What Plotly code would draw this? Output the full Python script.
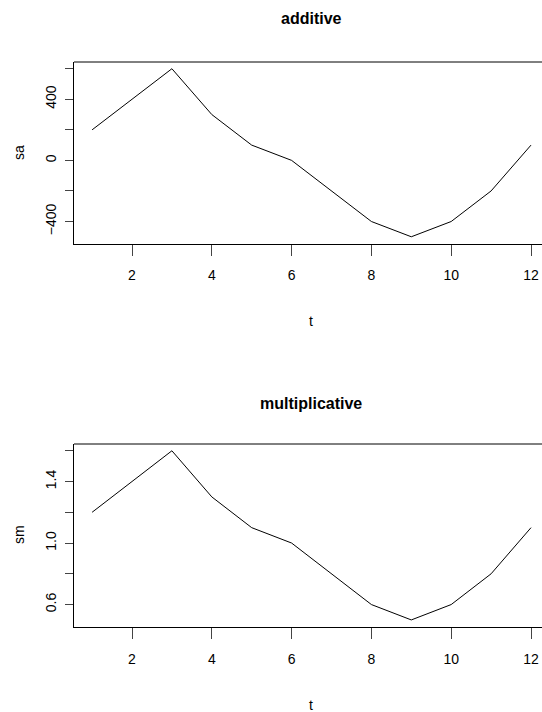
import plotly.graph_objects as go

t = [1, 2, 3, 4, 5, 6, 7, 8, 9, 10, 11, 12]
sa = [200, 400, 600, 300, 100, 0, -200, -400, -500, -400, -200, 100]
sm = [1.2, 1.4, 1.6, 1.3, 1.1, 1.0, 0.8, 0.6, 0.5, 0.6, 0.8, 1.1]

x_ticks = [2, 4, 6, 8, 10, 12]
sa_ticks = [-400, -200, 0, 200, 400, 600]
sa_text = ["\u2212400", "", "0", "", "400", ""]
sm_ticks = [0.6, 0.8, 1.0, 1.2, 1.4, 1.6]
sm_text = ["0.6", "", "1.0", "", "1.4", ""]

W, H = 542, 712
FONT = "Liberation Sans, Arial, sans-serif"

def py(p):
    return 1 - p / H

left = 74 / W
top_dom = [py(243.5), py(62)]
bot_dom = [py(626.7), py(444)]
xr = [2 - 58 / 39.9, 12 + 11 / 39.9]

fig = go.Figure()
fig.add_trace(go.Scatter(x=t, y=sa, mode="lines", line=dict(color="black", width=1),
                         xaxis="x", yaxis="y", showlegend=False, hoverinfo="skip"))
fig.add_trace(go.Scatter(x=t, y=sm, mode="lines", line=dict(color="black", width=1),
                         xaxis="x2", yaxis="y2", showlegend=False, hoverinfo="skip"))

xcommon = dict(range=xr, domain=[left, 1], tickvals=x_ticks, ticks="outside", ticklen=11,
               tickwidth=1, tickcolor="#444", showline=True, linecolor="black", linewidth=1,
               showgrid=False, zeroline=False, tickfont=dict(family=FONT, size=14, color="black"),
               ticklabelstandoff=8)
ycommon = dict(ticks="outside", ticklen=8, tickwidth=1, tickcolor="#444", showline=True,
               linecolor="black", linewidth=1, showgrid=False, zeroline=False, tickangle=-90,
               tickfont=dict(family=FONT, size=14, color="black"), ticklabelstandoff=3)

fig.update_layout(
    width=W, height=H, margin=dict(l=0, r=0, t=0, b=0),
    paper_bgcolor="white", plot_bgcolor="white",
    xaxis=dict(anchor="y", **xcommon),
    yaxis=dict(domain=top_dom, range=[-544, 644], tickvals=sa_ticks, ticktext=sa_text,
               anchor="x", **ycommon),
    xaxis2=dict(anchor="y2", **xcommon),
    yaxis2=dict(domain=bot_dom, range=[0.456, 1.644], tickvals=sm_ticks, ticktext=sm_text,
                anchor="x2", **ycommon),
    shapes=[
        dict(type="line", xref="paper", yref="paper", x0=left, x1=1.05, y0=top_dom[1], y1=top_dom[1],
             line=dict(color="black", width=1)),
        dict(type="line", xref="paper", yref="paper", x0=left, x1=1.05, y0=bot_dom[1], y1=bot_dom[1],
             line=dict(color="black", width=1)),
    ],
)

def ann(text, x, y, size=14, bold=False, angle=0):
    fig.add_annotation(text=f"<b>{text}</b>" if bold else text, xref="paper", yref="paper",
                       x=x / W, y=py(y), showarrow=False, xanchor="center", yanchor="middle",
                       textangle=angle, font=dict(family=FONT, size=size, color="black"))

ann("additive", 311, 18, size=16, bold=True)
ann("multiplicative", 311, 403, size=16, bold=True)
ann("t", 311, 321)
ann("t", 311, 705)
ann("sa", 19, 153, angle=-90)
ann("sm", 19, 535, angle=-90)

fig.write_html("out.html")
